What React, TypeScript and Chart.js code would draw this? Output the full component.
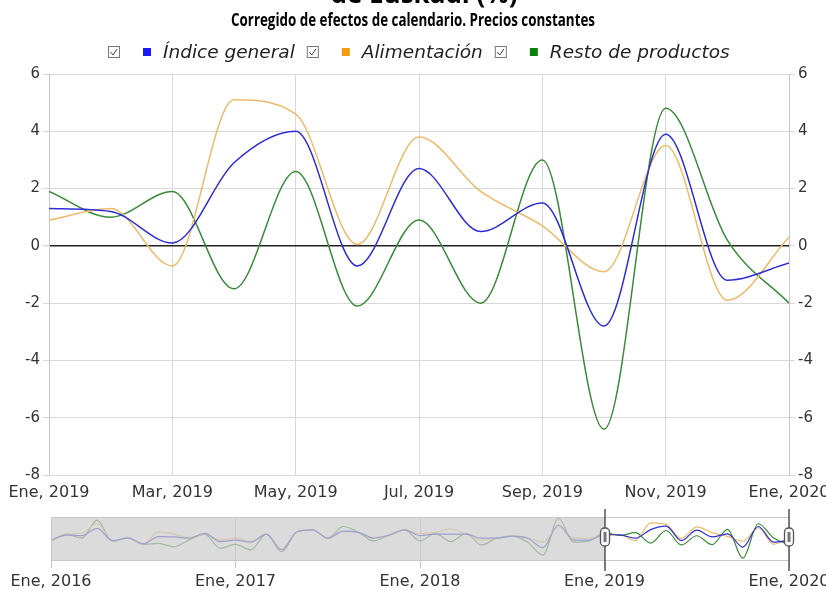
import React, { useEffect, useRef } from "react";
import { Chart, registerables } from "chart.js";
Chart.register(...registerables);

// ---- Data ----
const titleText = "de Euskadi (%)";
const subtitleText = "Corregido de efectos de calendario. Precios constantes";
const seriesNames = ["Índice general", "Alimentación", "Resto de productos"];
const monthLabels = [
  "Ene, 2019", "Feb, 2019", "Mar, 2019", "Abr, 2019", "May, 2019", "Jun, 2019", "Jul, 2019",
  "Ago, 2019", "Sep, 2019", "Oct, 2019", "Nov, 2019", "Dic, 2019", "Ene, 2020",
];
const indiceGeneral = [1.3, 1.2, 0.1, 2.9, 4.0, -0.7, 2.7, 0.5, 1.5, -2.8, 3.9, -1.2, -0.6];
const alimentacion = [0.9, 1.3, -0.7, 5.1, 4.6, 0.05, 3.8, 1.9, 0.7, -0.9, 3.5, -1.9, 0.3];
const restoProductos = [1.9, 1.0, 1.9, -1.5, 2.6, -2.1, 0.9, -2.0, 3.0, -6.4, 4.8, 0.2, -2.0];
const yMin = -8;
const yMax = 6;
const yStep = 2;

// Navigator: Jan 2016 .. Dec 2018 (then continues with 2019 data above)
const navYearLabels = ["Ene, 2016", "Ene, 2017", "Ene, 2018", "Ene, 2019", "Ene, 2020"];
const navIndice2016to2018 = [
  -0.5, 1.1, 0.9, 3.3, -0.7, 0.1, -1.7, 0.6, 0.5, 0.1, 1.7, -1.0,
  -0.5, -1.2, 1.4, -3.7, 2.2, 2.8, 0.1, 2.4, 2.0, 0.1, 1.1, 2.8,
  0.9, 1.4, 1.4, 1.4, 0.1, 0.1, 0.8, 0.1, -3.0, 4.4, -0.5, -0.5,
];
const navAlimentacion2016to2018 = [
  -1.0, 1.4, 1.7, 4.9, -0.8, 0.1, -1.8, 2.2, 1.4, 0.3, 1.7, -0.5,
  0.1, -1.0, 1.4, -3.5, 2.2, 2.8, 0.1, 2.2, 2.0, 0.3, 1.1, 2.8,
  1.6, 2.0, 3.1, 1.4, -0.5, 0.1, 0.8, 0.3, -1.2, 3.9, 0.1, 0.1,
];
const navResto2016to2018 = [
  -0.8, 1.4, 0.1, 6.0, -0.9, 0.3, -1.9, -1.6, -2.7, -0.4, 1.4, -3.2,
  -1.9, -3.7, 1.4, -4.3, 2.2, 2.8, 0.1, 3.9, 2.0, -0.8, 1.1, 2.8,
  -0.8, 1.7, -1.0, 1.7, -2.1, 0.1, 0.8, -1.2, -5.4, 6.6, -1.2, -0.8,
];
const navYMin = -7;
const navYMax = 7;
const selectedFromIndex = 36; // Ene, 2019

// ---- Styles ----
const lineColors = ["rgb(45,45,215)", "rgb(236,186,108)", "rgb(58,138,58)"];
const legendColors = ["#1a1aff", "#f39c12", "#0a800a"];
const tickFont = { family: "'DejaVu Sans'", size: 16 };
const navTickFont = { family: "'DejaVu Sans'", size: 16 };
const tickColor = "#333";
const gridColor = "#d8d8d8";

const headerPlugin = {
  id: "header",
  afterDraw(chart: any) {
    const ctx = chart.ctx;
    ctx.save();
    ctx.fillStyle = "#000";
    ctx.textAlign = "center";
    ctx.textBaseline = "alphabetic";
    ctx.font = "bold 26px 'Open Sans'";
    ctx.fillText(titleText, 424, 3, 238);
    ctx.font = "bold 18px 'Open Sans'";
    ctx.fillText(subtitleText, 413, 26, 364);

    // legend
    ctx.font = "italic 18.5px 'DejaVu Sans'";
    const cb = 12, gapCb = 23, sq = 8, gapSq = 12, gapItem = 12;
    const widths = seriesNames.map((n) => ctx.measureText(n).width);
    let total = 0;
    widths.forEach((w, i) => {
      total += cb + gapCb + sq + gapSq + w + (i < widths.length - 1 ? gapItem : 0);
    });
    let x = Math.round(418.5 - total / 2);
    const yc = 52;
    ctx.textAlign = "left";
    ctx.textBaseline = "middle";
    seriesNames.forEach((n, i) => {
      // checkbox
      ctx.strokeStyle = "#777";
      ctx.lineWidth = 1;
      ctx.strokeRect(x + 0.5, yc - 5.5, 11, 11);
      ctx.strokeStyle = "#444";
      ctx.beginPath();
      ctx.moveTo(x + 2.5, yc);
      ctx.lineTo(x + 5, yc + 3);
      ctx.lineTo(x + 9, yc - 3);
      ctx.stroke();
      x += cb + gapCb;
      ctx.fillStyle = legendColors[i];
      ctx.fillRect(x, yc - 4, sq, sq);
      x += sq + gapSq;
      ctx.fillStyle = "#222";
      ctx.fillText(n, x, yc + 1);
      x += widths[i] + gapItem;
    });
    ctx.restore();
  },
};

const navPlugin = {
  id: "navDecor",
  afterDatasetsDraw(chart: any) {
    const ctx = chart.ctx;
    const a = chart.chartArea;
    const xs = chart.scales.x;
    const xSel = Math.round(xs.getPixelForValue(selectedFromIndex));
    const xEnd = Math.round(a.right);
    ctx.save();
    // shade unselected region
    ctx.fillStyle = "rgba(205,205,205,0.72)";
    ctx.fillRect(a.left, a.top, xSel - a.left, a.bottom - a.top);
    // outline
    ctx.strokeStyle = "#c8c8c8";
    ctx.lineWidth = 1;
    ctx.strokeRect(Math.round(a.left) + 0.5, Math.round(a.top) + 0.5, xEnd - Math.round(a.left), Math.round(a.bottom - a.top));
    // handles
    [xSel, xEnd].forEach((hx) => {
      ctx.strokeStyle = "#555";
      ctx.lineWidth = 1.5;
      ctx.beginPath();
      ctx.moveTo(hx, 4);
      ctx.lineTo(hx, 66);
      ctx.stroke();
      const w = 9, h = 18, cy = 32;
      ctx.beginPath();
      const r = 4;
      const x0 = hx - w / 2, y0 = cy - h / 2;
      ctx.moveTo(x0 + r, y0);
      ctx.arcTo(x0 + w, y0, x0 + w, y0 + h, r);
      ctx.arcTo(x0 + w, y0 + h, x0, y0 + h, r);
      ctx.arcTo(x0, y0 + h, x0, y0, r);
      ctx.arcTo(x0, y0, x0 + w, y0, r);
      ctx.closePath();
      ctx.fillStyle = "#fff";
      ctx.fill();
      ctx.strokeStyle = "#555";
      ctx.lineWidth = 1.3;
      ctx.stroke();
      ctx.fillStyle = "#777";
      ctx.fillRect(hx - 1.5, cy - 5, 3, 10);
    });
    ctx.restore();
  },
};

function toPoints(values: number[]) {
  return values.map((y, i) => ({ x: i, y }));
}

export default function App() {
  const mainRef = useRef<HTMLCanvasElement>(null);
  const navRef = useRef<HTMLCanvasElement>(null);

  useEffect(() => {
    const mainSeries = [indiceGeneral, alimentacion, restoProductos];
    const main = new Chart(mainRef.current!, {
      type: "line",
      data: {
        datasets: mainSeries.map((vals, i) => ({
          label: seriesNames[i],
          data: toPoints(vals),
          borderColor: lineColors[i],
          backgroundColor: lineColors[i],
          borderWidth: 1.5,
          pointRadius: 0,
          cubicInterpolationMode: "monotone" as const,
          yAxisID: "y",
        })),
      },
      options: {
        animation: false,
        responsive: false,
        events: [],
        layout: { padding: { top: 74, left: 0, right: 0, bottom: 0 } },
        plugins: { legend: { display: false }, title: { display: false }, tooltip: { enabled: false } },
        scales: {
          x: {
            type: "linear",
            min: 0,
            max: monthLabels.length - 1,
            afterFit: (s: any) => { s.height = 30; s.paddingLeft = 0; s.paddingRight = 0; },
            grid: { color: gridColor, drawTicks: false },
            border: { color: gridColor },
            ticks: {
              stepSize: 2,
              autoSkip: false,
              maxRotation: 0,
              padding: 8,
              color: tickColor,
              font: tickFont,
              callback: (v: any) => monthLabels[v] ?? "",
            },
          },
          y: {
            position: "left",
            min: yMin,
            max: yMax,
            afterFit: (s: any) => { s.width = 49; },
            grid: {
              color: (c: any) => (c.tick && c.tick.value === 0 ? "#222" : gridColor),
              lineWidth: (c: any) => (c.tick && c.tick.value === 0 ? 1.5 : 1),
              tickLength: 6,
              tickColor: gridColor,
            },
            border: { color: "#c8c8c8" },
            ticks: { stepSize: yStep, padding: 3, color: tickColor, font: { family: "'DejaVu Sans'", size: 15 } },
          },
          y2: {
            position: "right",
            min: yMin,
            max: yMax,
            afterFit: (s: any) => { s.width = 37; },
            grid: { drawOnChartArea: false, tickLength: 6, color: gridColor },
            border: { color: "#c8c8c8" },
            ticks: { stepSize: yStep, padding: 3, color: tickColor, font: { family: "'DejaVu Sans'", size: 15 } },
          },
        },
      } as any,
      plugins: [headerPlugin],
    });

    const navSeries = [
      navIndice2016to2018.concat(indiceGeneral),
      navAlimentacion2016to2018.concat(alimentacion),
      navResto2016to2018.concat(restoProductos),
    ];
    const navCount = navSeries[0].length;
    const nav = new Chart(navRef.current!, {
      type: "line",
      data: {
        datasets: navSeries.map((vals, i) => ({
          label: seriesNames[i],
          data: toPoints(vals),
          borderColor: lineColors[i],
          borderWidth: 1.2,
          pointRadius: 0,
          cubicInterpolationMode: "monotone" as const,
        })),
      },
      options: {
        animation: false,
        responsive: false,
        events: [],
        layout: { padding: { top: 12, left: 51, right: 37, bottom: 0 } },
        plugins: { legend: { display: false }, title: { display: false }, tooltip: { enabled: false } },
        scales: {
          x: {
            type: "linear",
            min: 0,
            max: navCount - 1,
            afterFit: (s: any) => { s.height = 30; s.paddingLeft = 0; s.paddingRight = 0; },
            grid: {
              color: (c: any) => (c.tick && (c.tick.value === 0 || c.tick.value === navCount - 1) ? "rgba(0,0,0,0)" : "#c4c4c4"),
              tickColor: "#c4c4c4",
              tickLength: 8,
            },
            border: { display: false },
            ticks: {
              stepSize: 12,
              autoSkip: false,
              maxRotation: 0,
              padding: 4,
              color: tickColor,
              font: navTickFont,
              callback: (v: any) => navYearLabels[v / 12] ?? "",
            },
          },
          y: { display: false, min: navYMin, max: navYMax },
        },
      } as any,
      plugins: [navPlugin],
    });

    return () => {
      main.destroy();
      nav.destroy();
    };
  }, []);

  return (
    <div style={{ position: "absolute", left: 0, top: 0, width: 826, height: 590, overflow: "hidden", background: "#fff" }}>
      <canvas ref={mainRef} width={826} height={505} style={{ position: "absolute", left: 0, top: 0, width: 826, height: 505 }} />
      <canvas ref={navRef} width={826} height={85} style={{ position: "absolute", left: 0, top: 505, width: 826, height: 85 }} />
    </div>
  );
}
